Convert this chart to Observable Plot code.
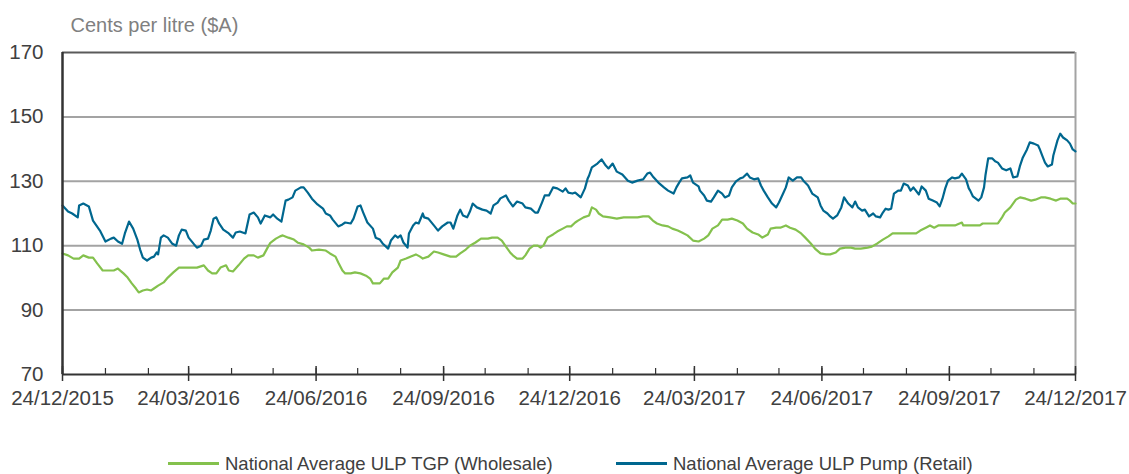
<!DOCTYPE html>
<html><head><meta charset="utf-8">
<script src="https://cdn.jsdelivr.net/npm/d3@7"></script>
<script src="https://cdn.jsdelivr.net/npm/@observablehq/plot@0.6"></script>
<style>
body{margin:0;background:#fff;font-family:"Liberation Sans",Arial,sans-serif;}
#wrap{position:relative;width:1129px;height:474px;overflow:hidden;}
#chart svg{display:block;}
.item{position:absolute;top:453px;height:21px;line-height:21px;display:flex;align-items:center;font-size:18.5px;color:#404040;white-space:nowrap;}
.swatch{display:inline-block;width:51px;height:2.5px;margin-right:6px;}
</style></head>
<body><div id="wrap"><div id="chart"></div></div>
<script>
const seriesNames = ["National Average ULP TGP (Wholesale)", "National Average ULP Pump (Retail)"];
const seriesColors = ["#84c14d", "#00678f"];
const startDate = "2015-12-24";
const endDate = "2017-12-24";
const yTicks = [70, 90, 110, 130, 150, 170];
const xTickLabels = ["24/12/2015","24/03/2016","24/06/2016","24/09/2016","24/12/2016","24/03/2017","24/06/2017","24/09/2017","24/12/2017"];

// days since 24/12/2015, and cents per litre
const retailDays = [0,4,7,11,12,15,19,22,27,31,35,37,40,43,45,48,51,54,56,58,61,64,66,68,69,71,73,76,79,82,84,86,89,91,95,97,100,102,105,107,109,111,113,116,120,123,125,128,132,135,138,141,143,146,150,152,155,158,161,163,166,168,172,174,177,180,184,188,190,193,195,199,202,204,208,210,213,215,217,220,224,226,229,231,235,237,240,242,244,246,249,250,253,255,257,260,261,264,268,271,274,278,280,282,285,287,289,292,294,296,299,303,306,309,311,314,316,320,322,325,328,332,334,338,341,343,346,348,351,354,357,361,363,365,368,370,374,377,379,380,382,386,389,392,394,397,400,404,408,411,415,419,422,424,426,430,434,437,441,443,445,447,451,453,455,459,460,463,465,468,470,473,476,478,481,483,486,489,491,494,496,499,502,504,506,509,512,515,517,520,522,524,527,530,533,535,538,541,545,547,549,552,554,556,559,562,564,567,570,572,574,577,579,582,585,587,590,592,594,596,598,600,603,605,607,610,612,614,618,620,623,625,628,631,633,635,637,639,642,644,647,649,652,654,655,657,661,663,665,666,668,671,673,675,678,681,684,686,689,691,693,696,698,701,704,705,707,709,711,714,715,718,720,722,725,727,729,731];
const retailCents = [122.5,120.6,120,118.8,122.5,123.1,122.2,117.8,114.7,111.3,112.2,112.5,111.3,110.6,113.8,117.5,115.3,111.9,108.8,106.3,105.4,106.3,106.6,107.9,107.3,112.5,113.2,112.5,110.7,110,113.2,115,114.7,112.5,110.4,109.4,110,111.9,112.2,114.7,118.4,118.8,116.9,115,113.8,112.5,114.1,114.4,113.8,119.7,120.3,118.8,116.9,119.4,118.8,119.7,118.4,117.5,124,124.3,125,127.1,128.1,128.1,126.5,124.6,122.8,121.5,120,119.4,118.1,116,116.6,117.2,116.9,118.4,122.2,122.5,120.3,117.2,115.3,112.5,111.9,110.7,109.1,111.6,113.2,112.5,113.2,111,109.4,113.8,116.3,117.2,116.9,120,118.8,118.4,116.3,114.7,116,117.2,117.2,115.3,119.4,121.2,119.4,118.8,120.6,123.1,121.9,121.2,120.9,120,122.5,123.4,124.7,125.6,124,122.2,123.7,123.1,121.9,121.5,120.3,120.3,123.4,125.6,125.6,128.1,127.8,126.8,127.8,126.5,126.2,126.5,125,127.8,130.9,131.8,134.3,135.5,136.8,134.9,134,135.5,133,132.1,130.2,129.6,130.2,130.6,132.4,132.7,131.5,129.6,128.1,127.1,126.2,128.1,129.6,130.9,131.2,131.8,129.6,128.4,127.1,125.6,124,123.7,125,127.1,126.2,125,125.6,128.1,130,130.9,131.2,132.4,131.2,130.6,130.9,128.7,127.1,125,123.1,121.9,123.4,126.2,128.1,131.2,130.2,131.2,131.2,130,128.7,126.2,125,122.5,120.9,120,119.1,118.4,119.4,121.9,125,123.1,121.9,123.7,121.9,120.9,121.2,119.1,120,119.1,118.8,120.3,121.5,121.2,121.5,126.2,127.1,127.1,129.3,128.7,127.1,128.1,125.9,128.4,127.1,124.6,124,123.4,122.2,124.6,127.8,130.2,131.2,130.9,131.2,132.4,130.6,127.8,127.1,125.3,124,125,128.1,131.8,137.1,137.1,136.2,135.8,134,133.4,134,131.2,131.5,134.9,137.4,139.9,142.1,141.7,141.1,140.2,138,135.8,134.6,135.2,138,142.7,144.8,143.6,142.7,141.7,139.9,139.3];

const wholesaleDays = [0,4,8,12,15,19,22,25,29,32,37,40,44,47,50,53,55,58,61,64,66,69,73,76,80,84,90,97,102,105,108,111,114,118,120,123,127,131,134,138,141,145,148,150,154,157,159,163,167,170,174,178,180,185,190,193,197,199,202,204,208,211,215,219,222,224,229,232,235,238,242,244,248,251,255,258,260,264,268,271,275,280,284,287,291,294,298,302,307,310,314,317,320,323,325,328,332,334,337,340,343,345,347,350,354,357,361,364,367,370,372,376,380,382,385,387,390,395,400,405,410,415,419,423,426,429,433,437,440,444,447,451,455,459,463,466,469,473,476,480,483,487,491,494,498,502,505,509,511,515,518,522,525,529,533,536,540,543,547,551,554,558,561,565,569,572,576,581,584,588,592,596,599,603,610,616,619,623,626,629,632,637,644,649,650,657,662,664,670,675,678,680,684,688,691,695,699,702,706,709,713,717,720,725,727,729,731];
const wholesaleCents = [107.6,107,106,106,107,106.3,106.3,104.5,102.3,102.3,102.3,102.9,101.4,100.1,98.3,96.7,95.5,96.1,96.4,96.1,96.7,97.6,98.6,100.1,101.7,103.2,103.2,103.2,103.9,102.3,101.4,101.4,103.2,103.9,102.3,102,103.9,106,107,107,106.3,107,109.4,110.9,112.2,112.9,113.2,112.5,111.9,110.9,110.4,109.4,108.5,108.8,108.5,107.6,106.6,104.8,102.3,101.4,101.4,101.7,101.4,100.7,99.8,98.3,98.3,99.8,99.8,101.7,103.2,105.4,106,106.6,107.3,106.6,106,106.6,108.2,107.9,107.3,106.6,106.6,107.6,108.8,110,111,112.2,112.2,112.5,112.5,111.6,109.7,107.9,107,106,106,107,109.1,110,110,109.4,110,112.5,113.5,114.4,115.3,116,116,117.2,117.8,118.8,119.4,121.9,121.2,120,119.1,118.8,118.4,118.8,118.8,118.8,119.1,119.1,117.8,116.9,116.3,116,115.3,114.7,114.1,113.2,111.6,111.3,112.2,113.2,115.3,116.3,118.1,118.1,118.4,117.8,116.9,115.3,114.1,113.5,112.5,113.5,115.3,115.6,115.6,116.3,115.6,115,113.8,112.5,110.7,109.1,107.6,107.3,107.3,107.9,109.1,109.4,109.4,109.1,109.1,109.4,109.7,110.7,111.9,112.9,113.8,113.8,113.8,113.8,114.7,115.6,116.3,115.6,116.3,116.3,116.3,117.2,116.3,116.3,116.3,116.9,116.9,116.9,118.8,120.3,121.9,124.3,125,124.6,124,124.3,125,125,124.6,124,124.6,124.6,124,123.1,123.1];

const start = new Date(startDate + "T00:00:00Z");
const end = new Date(endDate + "T00:00:00Z");
const toDate = d => d3.utcDay.offset(start, d);
const parseLabel = d3.utcParse("%d/%m/%Y");
const fmt = d3.utcFormat("%d/%m/%Y");
const majorTicks = xTickLabels.map(parseLabel);
const minorTicks = d3.range(0, 25).map(m => d3.utcMonth.offset(start, m));

const rows = [
  ...wholesaleDays.map((d, i) => ({series: seriesNames[0], date: toDate(d), value: wholesaleCents[i]})),
  ...retailDays.map((d, i) => ({series: seriesNames[1], date: toDate(d), value: retailCents[i]}))
];

const chart = Plot.plot({
  width: 1129,
  height: 420,
  marginLeft: 62,
  marginRight: 54,
  marginTop: 52,
  marginBottom: 46,
  style: {fontFamily: "'Liberation Sans', Arial, sans-serif", fontSize: "20px", background: "#fff"},
  x: {type: "utc", domain: [start, end]},
  y: {domain: [70, 170]},
  color: {domain: seriesNames, range: seriesColors},
  marks: [
    Plot.ruleY(yTicks.slice(1, -1), {stroke: "#a3a3a3", strokeWidth: 2}),
    Plot.ruleY(yTicks.slice(-1), {stroke: "#5a5a5a", strokeWidth: 2}),
    Plot.ruleX([end], {stroke: "#a3a3a3", strokeWidth: 2}),
    Plot.line(rows, {x: "date", y: "value", z: "series", stroke: "series", strokeWidth: 2.2}),
    Plot.ruleX([start], {stroke: "#333", strokeWidth: 2.5}),
    Plot.ruleY(yTicks.slice(0, 1), {stroke: "#333", strokeWidth: 2}),
    Plot.axisX(majorTicks, {tickSize: 15, dy: -8, tickFormat: () => "", label: null, stroke: "#333", strokeWidth: 1.5}),
    Plot.axisX(minorTicks, {tickSize: 7, dy: -6, tickFormat: () => "", label: null, stroke: "#333", strokeWidth: 1.2}),
    Plot.axisX(majorTicks, {tickSize: 0, tickPadding: 16, tickFormat: fmt, label: null, fontSize: 20.5, fill: "#404040"}),
    Plot.axisY(yTicks, {tickSize: 0, tickPadding: 19, label: null, fontSize: 20.5, fill: "#404040"}),
    Plot.text(["Cents per litre ($A)"], {frameAnchor: "top-left", dx: 8, dy: -27, textAnchor: "start", lineAnchor: "middle", fontSize: 20, fill: "#808080", letterSpacing: "-0.3px"})
  ]
});
document.getElementById("chart").appendChild(chart);

const wrap = document.getElementById("wrap");
const legendLeft = [168, 616];
seriesNames.forEach((name, i) => {
  const item = document.createElement("div");
  item.className = "item";
  item.style.left = legendLeft[i] + "px";
  const sw = document.createElement("span");
  sw.className = "swatch";
  sw.style.background = seriesColors[i];
  item.appendChild(sw);
  item.appendChild(document.createTextNode(name));
  wrap.appendChild(item);
});
</script>
</body></html>
